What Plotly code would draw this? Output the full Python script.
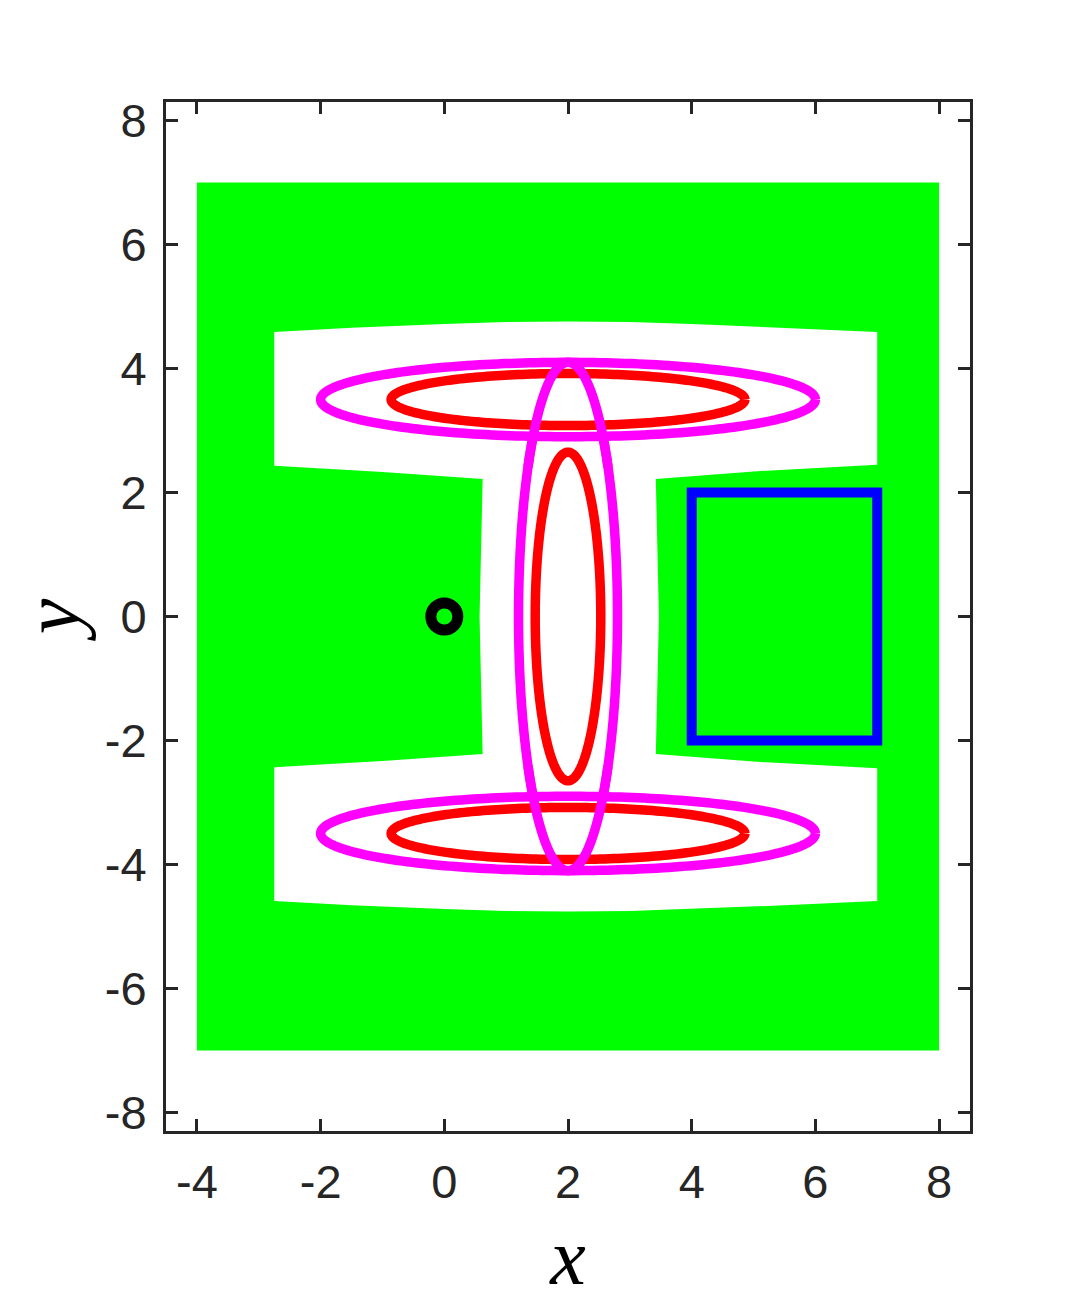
import numpy as np
import plotly.graph_objects as go

# outer safe region (green box)
box_x = [-4, 8, 8, -4, -4]
box_y = [-7, -7, 7, 7, -7]

# white "I" shaped cutout, boundary (clockwise from top-left)
cut_x = [-2.75, -1.5, 0.0, 1.0, 2.0, 3.0, 4.0, 5.5, 7.0,
         7.0, 5.0, 3.42,
         3.47, 3.42,
         5.0, 7.0, 7.0, 5.5, 4.0, 3.0, 2.0, 1.0, 0.0, -1.5, -2.75,
         -2.75, -1.0, 0.62,
         0.57, 0.62,
         -1.0, -2.75, -2.75]
cut_y = [4.59, 4.66, 4.72, 4.75, 4.76, 4.75, 4.72, 4.66, 4.59,
         2.45, 2.34, 2.22,
         0.0, -2.22,
         -2.34, -2.45, -4.59, -4.66, -4.72, -4.75, -4.76, -4.75, -4.72, -4.66, -4.59,
         -2.43, -2.33, -2.22,
         0.0, 2.22,
         2.33, 2.43, 4.59]

# target set (blue rectangle)
target_x = [4, 7]
target_y = [-2, 2]

# ellipses: centre x, centre y, semi-axis x, semi-axis y
mag_cx = [2.0, 2.0, 2.0]
mag_cy = [3.5, -3.5, 0.0]
mag_ax = [4.0, 4.0, 0.8]
mag_ay = [0.6, 0.6, 4.1]

red_cx = [2.0, 2.0, 2.0]
red_cy = [3.5, -3.5, 0.0]
red_ax = [2.86, 2.86, 0.53]
red_ay = [0.42, 0.42, 2.65]

# initial state
start_x = [0]
start_y = [0]

x_ticks = [-4, -2, 0, 2, 4, 6, 8]
y_ticks = [-8, -6, -4, -2, 0, 2, 4, 6, 8]

GREEN = "#00ff00"
MAGENTA = "#ff00ff"
RED = "#ff0000"
BLUE = "#0000ff"
AXIS = "#262626"
LW = 9.5


def ellipse(cx, cy, ax, ay, t0=0.0, t1=2 * np.pi):
    t = np.linspace(t0, t1, 241)
    return cx + ax * np.cos(t), cy + ay * np.sin(t)


def line(x, y, color, width=LW):
    return go.Scatter(x=x, y=y, mode="lines",
                      line=dict(color=color, width=width, simplify=False),
                      hoverinfo="skip", showlegend=False)


fig = go.Figure()

fig.add_trace(go.Scatter(x=box_x, y=box_y, fill="toself", fillcolor=GREEN,
                         mode="lines", line=dict(width=0, color=GREEN),
                         hoverinfo="skip", showlegend=False))
fig.add_trace(go.Scatter(x=cut_x, y=cut_y, fill="toself", fillcolor="white",
                         mode="lines", line=dict(width=0, color="white"),
                         hoverinfo="skip", showlegend=False))

# target rectangle as a closed shape so the corners join cleanly
fig.add_shape(type="rect", xref="x", yref="y",
              x0=target_x[0], x1=target_x[1], y0=target_y[0], y1=target_y[1],
              line=dict(color=BLUE, width=10), layer="above")

# vertical magenta ellipse: sides first, red over them, caps last
i = 2
for t0, t1 in [(-0.25 * np.pi, 0.25 * np.pi), (0.75 * np.pi, 1.25 * np.pi)]:
    ex, ey = ellipse(mag_cx[i], mag_cy[i], mag_ax[i], mag_ay[i], t0, t1)
    fig.add_trace(line(ex, ey, MAGENTA))

for j in range(len(red_cx)):
    ex, ey = ellipse(red_cx[j], red_cy[j], red_ax[j], red_ay[j])
    fig.add_trace(line(ex, ey, RED))

for t0, t1 in [(0.2 * np.pi, 0.8 * np.pi), (1.2 * np.pi, 1.8 * np.pi)]:
    ex, ey = ellipse(mag_cx[i], mag_cy[i], mag_ax[i], mag_ay[i], t0, t1)
    fig.add_trace(line(ex, ey, MAGENTA))

for j in range(2):
    ex, ey = ellipse(mag_cx[j], mag_cy[j], mag_ax[j], mag_ay[j])
    fig.add_trace(line(ex, ey, MAGENTA))

fig.add_trace(go.Scatter(x=start_x, y=start_y, mode="markers",
                         marker=dict(symbol="circle-open", size=27, color="black",
                                     line=dict(width=11, color="black")),
                         hoverinfo="skip", showlegend=False))

axis_style = dict(
    showline=True, linecolor=AXIS, linewidth=3, mirror="ticks",
    ticks="inside", ticklen=12, tickwidth=3, tickcolor=AXIS,
    showgrid=False, zeroline=False, automargin=False,
    tickfont=dict(family="Liberation Sans, Arial", size=47, color=AXIS),
)

fig.update_layout(
    width=1057, height=1293,
    margin=dict(l=158, r=95, t=94, b=170),
    paper_bgcolor="white", plot_bgcolor="white",
    xaxis=dict(range=[-4.5, 8.5], tickvals=x_ticks,
               ticktext=[str(v) for v in x_ticks], ticklabelstandoff=8,
               title=dict(text="<i>x</i>", standoff=22,
                          font=dict(family="Liberation Serif", size=80, color="black")),
               **axis_style),
    yaxis=dict(range=[-8.3, 8.3], tickvals=y_ticks,
               ticktext=[str(v) for v in y_ticks], ticklabelstandoff=7,
               title=dict(text="<i>y</i>", standoff=36,
                          font=dict(family="Liberation Serif", size=80, color="black")),
               **axis_style),
)

fig.write_html("out.html")
